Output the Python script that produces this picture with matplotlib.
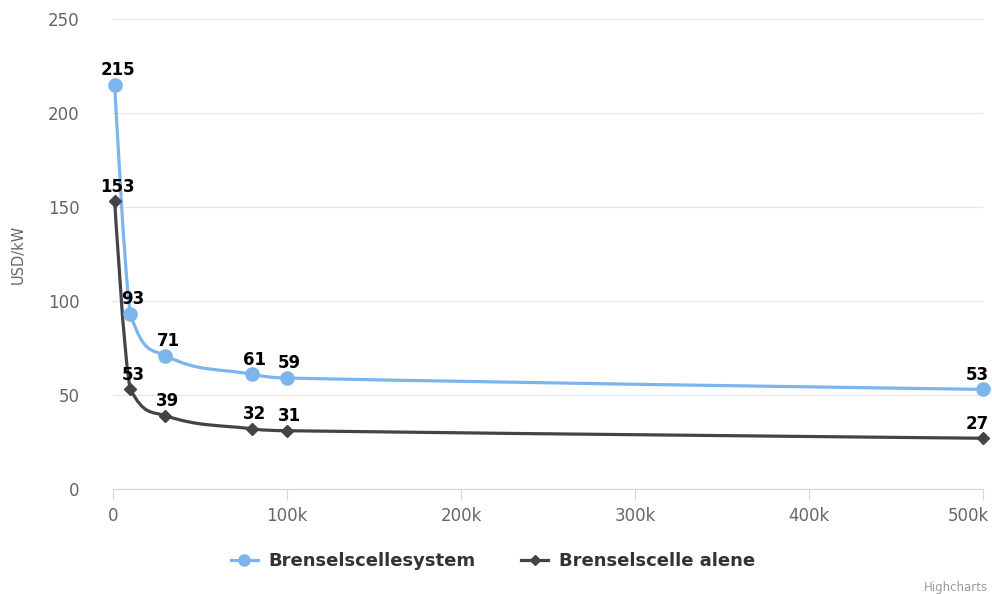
import matplotlib.pyplot as plt
import matplotlib.transforms as mtransforms
from matplotlib.path import Path
from matplotlib.patches import PathPatch
from matplotlib.lines import Line2D
from matplotlib.ticker import FuncFormatter

volume = [1000, 10000, 30000, 80000, 100000, 500000]
system_cost = [215, 93, 71, 61, 59, 53]
stack_cost = [153, 53, 39, 32, 31, 27]
series_names = ['Brenselscellesystem', 'Brenselscelle alene']
colors = ['#7cb5ec', '#434348']


def spline_path(xs, ys, smoothing=1.5):
    # highcharts-style spline: cubic bezier with control points per point
    n = len(xs)
    left = [None] * n
    right = [None] * n
    d = smoothing + 1
    for i in range(1, n - 1):
        px, py = xs[i], ys[i]
        lx, ly = xs[i - 1], ys[i - 1]
        nx, ny = xs[i + 1], ys[i + 1]
        lcx = (smoothing * px + lx) / d
        lcy = (smoothing * py + ly) / d
        rcx = (smoothing * px + nx) / d
        rcy = (smoothing * py + ny) / d
        corr = 0
        if rcx != lcx:
            corr = (rcy - lcy) * (rcx - px) / (rcx - lcx) + py - rcy
        lcy += corr
        rcy += corr
        if lcy > ly and lcy > py:
            lcy = max(ly, py); rcy = 2 * py - lcy
        elif lcy < ly and lcy < py:
            lcy = min(ly, py); rcy = 2 * py - lcy
        if rcy > ny and rcy > py:
            rcy = max(ny, py); lcy = 2 * py - rcy
        elif rcy < ny and rcy < py:
            rcy = min(ny, py); lcy = 2 * py - rcy
        left[i] = (lcx, lcy)
        right[i] = (rcx, rcy)
    verts = [(xs[0], ys[0])]
    codes = [Path.MOVETO]
    for i in range(1, n):
        c1 = right[i - 1] or (xs[i - 1], ys[i - 1])
        c2 = left[i] or (xs[i], ys[i])
        verts += [c1, c2, (xs[i], ys[i])]
        codes += [Path.CURVE4] * 3
    return Path(verts, codes)


fig = plt.figure(figsize=(9.92, 5.94), dpi=100)
ax = fig.add_axes([113 / 992, 1 - 489 / 594, 870 / 992, 470 / 594])

for vals, col, mk, ms in [(system_cost, colors[0], 'o', 9.5), (stack_cost, colors[1], 'D', 6.5)]:
    ax.add_patch(PathPatch(spline_path(volume, vals), fill=False, edgecolor=col,
                           lw=2.3, zorder=3, capstyle='round'))
    ax.plot(volume, vals, ls='none', marker=mk, ms=ms, color=col, zorder=4, clip_on=False)
    for x, y in zip(volume, vals):
        dx = -4 if x == volume[-1] else 2
        ax.annotate(str(y), (x, y), xytext=(dx, 7), textcoords='offset points',
                    ha='center', va='baseline', fontsize=12, fontweight='bold',
                    color='black', zorder=5, annotation_clip=False)

ax.set_xlim(0, 500000)
ax.set_ylim(0, 250)
ax.set_yticks(range(0, 251, 50))
ax.set_xticks(range(0, 500001, 100000))
ax.xaxis.set_major_formatter(FuncFormatter(lambda v, p: '0' if v == 0 else f'{int(v / 1000)}k'))
ax.grid(axis='y', color='#e6e6e6', lw=1)
ax.set_axisbelow(True)
for s in ['top', 'right', 'left']:
    ax.spines[s].set_visible(False)
ax.spines['bottom'].set_color('#ccd6eb')
ax.tick_params(axis='y', length=0, labelsize=12, labelcolor='#666666', pad=24)
ax.tick_params(axis='x', length=8, color='#ccd6eb', labelsize=12, labelcolor='#666666', pad=5)
ax.set_ylabel('USD/kW', color='#666666', fontsize=10.5, labelpad=16)

# keep the last x label inside the figure like highcharts does
fig.canvas.draw()
last = ax.get_xticklabels()[-1]
last.set_transform(last.get_transform() + mtransforms.ScaledTranslation(-15 / 100, 0, fig.dpi_scale_trans))

handles = [Line2D([], [], color=colors[0], marker='o', ms=8, lw=2.3),
           Line2D([], [], color=colors[1], marker='D', ms=5.5, lw=2.3)]
fig.legend(handles, series_names, loc='center', bbox_to_anchor=(0.497, 1 - 561 / 594),
           ncol=2, frameon=False, prop={'weight': 'bold', 'size': 13},
           handlelength=1.5, handletextpad=0.6, columnspacing=2.5, labelcolor='#333333')
fig.text(0.996, 1 - 588 / 594, 'Highcharts', ha='right', va='center', fontsize=8.5, color='#999999')

plt.savefig('out.png', dpi=100)
